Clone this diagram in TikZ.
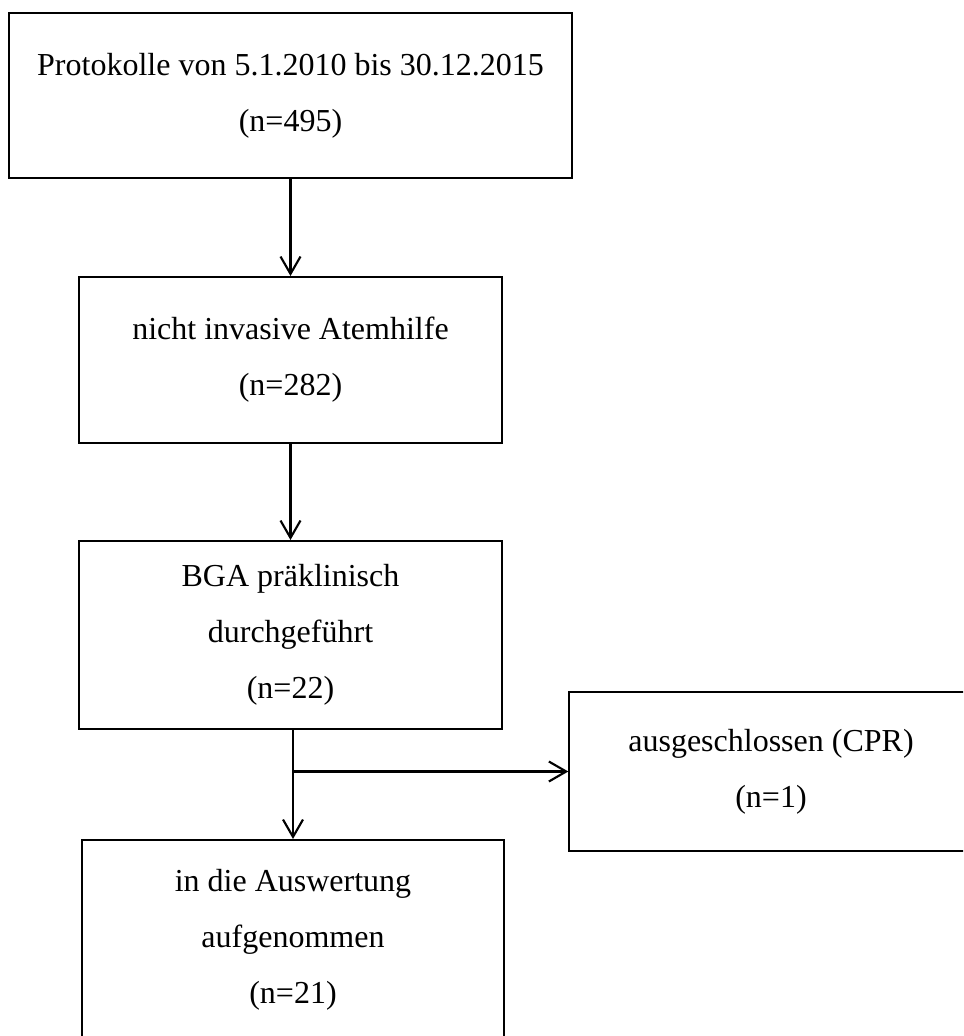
\documentclass[tikz,border=0pt]{standalone}
\usepackage{fontspec}
\setmainfont{Liberation Serif}
\usetikzlibrary{arrows.meta,calc}
\tikzset{
  flowbox/.style={draw,line width=0.75pt,align=center,inner sep=0pt,
    font=\fontsize{12pt}{21pt}\selectfont},
  flowarrow/.style={line width=0.8pt,-{Straight Barb[length=6.5pt,width=7.5pt]}}
}

\begin{document}
\begin{tikzpicture}[x=0.375pt,y=-0.375pt]
  \path[use as bounding box,clip] (0,0) rectangle (963,1036);
  \node[flowbox,minimum width=211.1pt,minimum height=61.9pt] (proto) at (290.5,95.5)
    {Protokolle von 5.1.2010 bis 30.12.2015\\(n=495)};
  \node[flowbox,minimum width=158.6pt,minimum height=62.25pt] (atem) at (290.5,360)
    {nicht invasive Atemhilfe\\(n=282)};
  \node[flowbox,minimum width=158.6pt,minimum height=70.5pt] (bga) at (290.5,635)
    {BGA präklinisch\\durchgeführt\\(n=22)};
  \node[flowbox,line width=0.5pt,minimum width=151.5pt,minimum height=59.6pt] (ausg) at (771,771.5)
    {ausgeschlossen (CPR)\\(n=1)};
  \node[flowbox,minimum width=158.25pt,minimum height=75pt] (ausw) at (293,940)
    {in die Auswertung\\aufgenommen\\(n=21)};
  \draw[flowarrow] (proto.south) -- (atem.north);
  \draw[flowarrow] (atem.south) -- (bga.north);
  \draw[flowarrow] (ausw.north |- bga.south) -- (ausw.north);
  \coordinate (split) at (ausw.north |- ausg.west);
  \draw[flowarrow] (split) -- (ausg.west);
\end{tikzpicture}
\end{document}
